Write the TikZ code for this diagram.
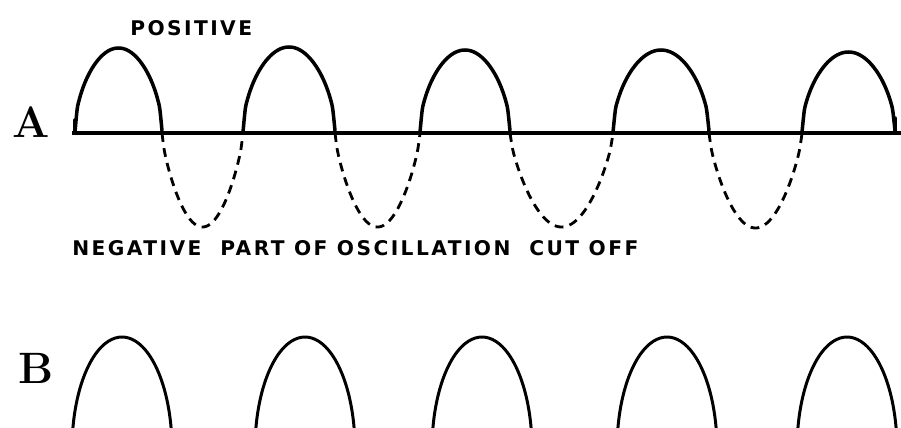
\documentclass[tikz,border=0pt]{standalone}
\usepackage{fontspec}
\newfontfamily\capfont[LetterSpace=12]{DejaVu Sans}
\usetikzlibrary{positioning}
\tikzset{
  wave/.style   ={line width=2pt, line join=round, line cap=round},
  cutwave/.style={line width=1.6pt, dash pattern=on 5pt off 3.6pt},
  archwave/.style={line width=1.7pt, line join=round},
  axisline/.style={line width=2.3pt},
  caption/.style={font=\capfont\bfseries\fontsize{11.5}{12}\selectfont, inner sep=0pt, anchor=base west},
  rowlabel/.style={font=\bfseries\fontsize{25}{26}\selectfont, inner sep=0pt, anchor=base west},
}
% lobe on the axis of row A: from #2 to #3, height #4, exponent #5
\newcommand{\lobe}[5][wave]{%
  \draw[#1] plot[domain=0:1, samples=41, smooth]
    ({#2+(#3-#2)*\x}, {133-#4*(abs(sin(180*\x))+0.0001)^#5});}
% arch of row B centred at #1
\newcommand{\bigarch}[1]{%
  \draw[archwave] plot[domain=170:10, samples=41, smooth]
    ({#1+50*cos(\x)}, {449-112*sin(\x)});}

\begin{document}
\begin{tikzpicture}[x=0.02cm, y=-0.02cm]
  \path[use as bounding box] (0,0) rectangle (901,427);
  \clip (0,0) rectangle (901,427);

  \node[rowlabel] (labA) at (12,137) {A};
  \node[rowlabel] (labB) at (18,383) {B};
  \node[caption]  (pos)  at (130,35) {POSITIVE};
  \node[caption]  (neg)  at (72,255) {NEGATIVE\ \ PART\ OF\ OSCILLATION\ \ CUT\ OFF};

  \draw[axisline] (72,133) -- (901,133);

  \lobe{75}{162}{85}{0.5}
  \lobe{243}{335}{86}{0.5}
  \lobe{420}{510}{83}{0.5}
  \lobe{613}{709}{83}{0.5}
  \lobe{802}{895}{81}{0.5}
  \draw[wave] (75,133) -- (75,120);
  \draw[wave] (895,133) -- (895,118);

  \lobe[cutwave]{162}{243}{-94}{0.7}
  \lobe[cutwave]{335}{420}{-94}{0.7}
  \lobe[cutwave]{510}{613}{-94}{0.7}
  \lobe[cutwave]{709}{802}{-95}{0.7}

  \bigarch{122}
  \bigarch{305}
  \bigarch{482}
  \bigarch{667}
  \bigarch{847}
\end{tikzpicture}
\end{document}
